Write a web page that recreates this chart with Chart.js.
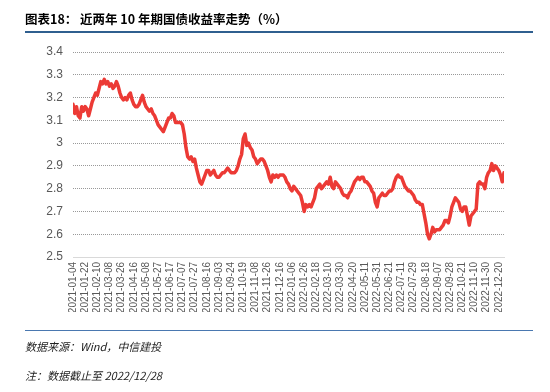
<!DOCTYPE html>
<html>
<head>
<meta charset="utf-8">
<script src="https://cdn.jsdelivr.net/npm/chart.js@4/dist/chart.umd.min.js"></script>
<style>
  html, body { margin: 0; padding: 0; background: #fff; }
  #wrap { position: relative; width: 550px; height: 392px; overflow: hidden; }
  canvas { position: absolute; left: 0; top: 0; }
  .t { position: absolute; font-family: "Noto Sans CJK SC", sans-serif; color: #000; white-space: nowrap; }
  .rule { position: absolute; left: 25px; width: 508px; }
</style>
</head>
<body>
<div id="wrap">
  <canvas id="c" width="550" height="392"></canvas>
  <div class="t" style="left:25px; top:9px; font-size:12.5px; font-weight:bold;">图表18：</div>
  <div class="t" style="left:80px; top:9px; font-size:12.5px; font-weight:bold;">近两年 10 年期国债收益率走势（%）</div>
  <div class="rule" style="top:31px; height:2px; background:#2f5f8f;"></div>
  <div class="rule" style="top:330px; height:1px; background:#4a78b0;"></div>
  <div class="t" style="left:25px; top:338px; font-size:11px; font-style:italic; color:#222;">数据来源：Wind，中信建投</div>
  <div class="t" style="left:25px; top:367px; font-size:11px; font-style:italic; color:#222;">注：数据截止至 2022/12/28</div>
</div>
<script>
// x tick labels: one every 14 trading days
const tickLabels = [
  "2021-01-04","2021-01-22","2021-02-10","2021-03-08","2021-03-26","2021-04-16",
  "2021-05-08","2021-05-27","2021-06-17","2021-07-07","2021-07-27","2021-08-16",
  "2021-09-03","2021-09-24","2021-10-19","2021-11-08","2021-11-26","2021-12-16",
  "2022-01-06","2022-01-26","2022-02-18","2022-03-10","2022-03-30","2022-04-20",
  "2022-05-11","2022-05-31","2022-06-21","2022-07-11","2022-07-29","2022-08-18",
  "2022-09-07","2022-09-28","2022-10-21","2022-11-10","2022-11-30","2022-12-20"
];
const tickEvery = 14;      // trading days between tick labels
const sampleEvery = 2;     // trading days between samples
const totalDays = 496;     // last trading-day index (2022-12-28)

const yTickLabels = ["2.5","2.6","2.7","2.8","2.9","3","3.1","3.2","3.3","3.4"];

const yields = [
  3.17,3.13,3.16,3.12,3.11,3.16,3.14,3.16,3.15,3.12,
  3.15,3.18,3.20,3.22,3.21,3.24,3.27,3.26,3.28,3.26,
  3.27,3.25,3.26,3.24,3.25,3.27,3.25,3.22,3.20,3.19,
  3.20,3.19,3.21,3.22,3.19,3.17,3.16,3.16,3.17,3.19,
  3.21,3.18,3.16,3.15,3.14,3.15,3.13,3.12,3.10,3.08,
  3.07,3.06,3.05,3.07,3.09,3.11,3.11,3.13,3.12,3.09,
  3.09,3.09,3.09,3.08,3.04,2.98,2.94,2.93,2.94,2.92,
  2.93,2.89,2.86,2.83,2.82,2.84,2.86,2.88,2.88,2.86,
  2.87,2.88,2.86,2.85,2.85,2.86,2.87,2.87,2.88,2.89,
  2.88,2.87,2.87,2.87,2.88,2.90,2.93,2.95,3.02,3.04,
  2.99,3.00,2.98,2.97,2.94,2.93,2.91,2.92,2.93,2.93,
  2.92,2.90,2.88,2.85,2.83,2.86,2.85,2.86,2.85,2.86,
  2.86,2.86,2.85,2.83,2.82,2.80,2.79,2.81,2.80,2.79,
  2.78,2.77,2.74,2.70,2.73,2.72,2.73,2.72,2.74,2.76,
  2.80,2.81,2.82,2.80,2.81,2.82,2.83,2.82,2.85,2.81,
  2.80,2.83,2.82,2.81,2.80,2.78,2.77,2.77,2.76,2.78,
  2.79,2.81,2.83,2.84,2.85,2.84,2.85,2.85,2.83,2.83,
  2.82,2.81,2.79,2.78,2.74,2.72,2.76,2.77,2.78,2.77,
  2.77,2.78,2.79,2.79,2.80,2.83,2.85,2.86,2.85,2.85,
  2.83,2.81,2.80,2.79,2.79,2.78,2.77,2.75,2.74,2.74,
  2.73,2.73,2.69,2.65,2.60,2.58,2.60,2.63,2.61,2.62,
  2.62,2.62,2.63,2.64,2.66,2.66,2.65,2.68,2.72,2.74,
  2.76,2.75,2.74,2.71,2.70,2.72,2.72,2.68,2.64,2.68,
  2.69,2.70,2.71,2.82,2.83,2.82,2.82,2.80,2.85,2.87,
  2.88,2.91,2.88,2.90,2.89,2.88,2.86,2.83,2.87
];

const points = yields.map((v, i) => ({ x: i * sampleEvery, y: v }));

new Chart(document.getElementById('c'), {
  type: 'line',
  data: {
    datasets: [{
      data: points,
      borderColor: '#ec3a35',
      borderWidth: 3.5,
      pointRadius: 0,
      tension: 0,
      borderJoinStyle: 'round',
      borderCapStyle: 'round'
    }]
  },
  options: {
    responsive: false,
    animation: false,
    devicePixelRatio: 1,
    layout: { padding: { top: 52, right: 46, bottom: 80, left: 0 } },
    plugins: { legend: { display: false }, tooltip: { enabled: false } },
    scales: {
      x: {
        type: 'linear',
        min: 0,
        max: totalDays,
        afterFit: s => { s.height = 55; },
        grid: { display: false, drawTicks: false },
        border: { display: true, color: '#d9d9d9', width: 1 },
        ticks: {
          stepSize: tickEvery,
          includeBounds: false,
          autoSkip: false,
          maxRotation: 90,
          minRotation: 90,
          padding: 5,
          color: '#595959',
          font: { family: 'Arial, "Liberation Sans", sans-serif', size: 10 },
          callback: v => tickLabels[Math.round(v / tickEvery)] || ''
        }
      },
      y: {
        min: 2.5,
        max: 3.4,
        afterFit: s => { s.width = 73; },
        grid: {
          drawTicks: false,
          color: ctx => ctx.index === 0 ? '#d9d9d9' : '#999999',
          lineWidth: 1
        },
        border: { display: false, dash: ctx => ctx.index === 0 ? [] : [1, 1] },
        ticks: {
          stepSize: 0.1,
          padding: 10,
          color: '#595959',
          font: { family: 'Arial, "Liberation Sans", sans-serif', size: 12 },
          callback: (v, i) => yTickLabels[i]
        }
      }
    }
  }
});
</script>
</body>
</html>
